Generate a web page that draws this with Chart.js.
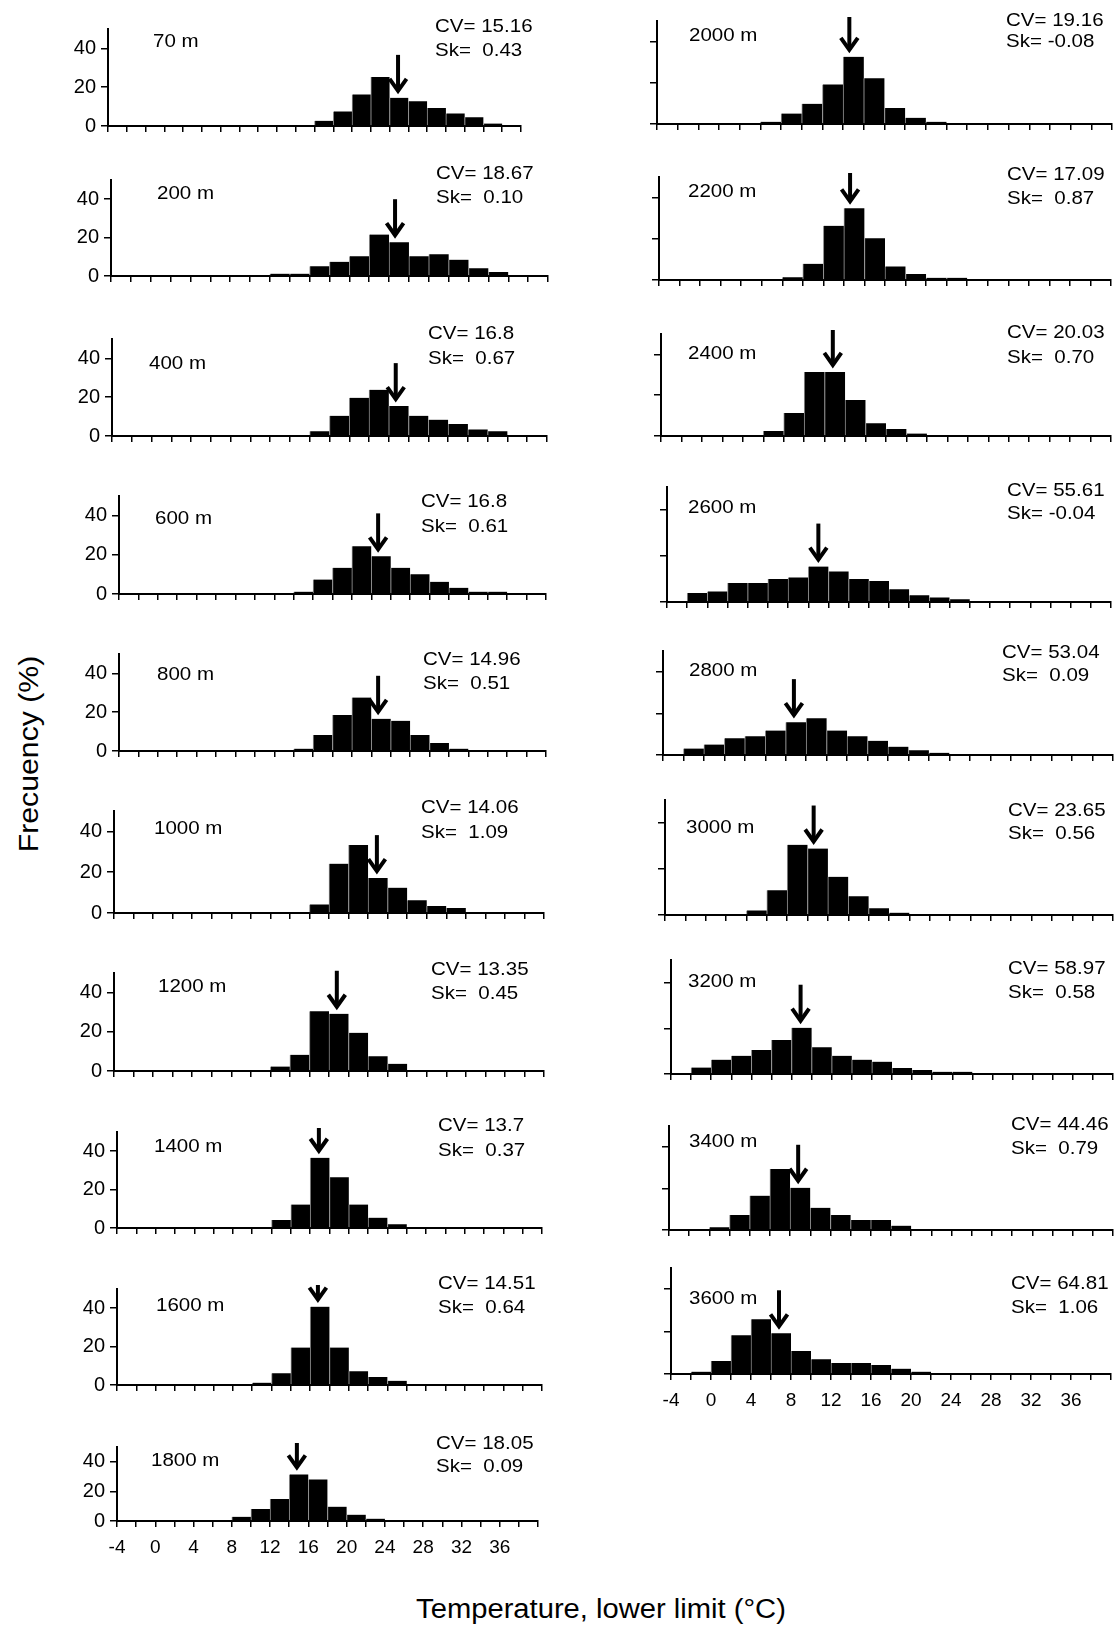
<!DOCTYPE html>
<html lang="en">
<head>
    <meta charset="UTF-8">
    <title>Frequency of lower temperature limit by altitude</title>
    <script src="https://cdn.jsdelivr.net/npm/chart.js"></script>
    <style>
        body {
            margin: 0;
            width: 1115px;
            height: 1625px;
            position: relative;
            overflow: hidden;
            background: #fff;
            font-family: "Liberation Sans", Arial, sans-serif;
            color: #000;
        }
        canvas { position: absolute; }
        .note {
            position: absolute;
            font-size: 19px;
            line-height: 1;
            white-space: pre;
            transform-origin: 0 50%;
            transform: translateY(-50%) scaleX(1.08);
        }
        .title {
            position: absolute;
            font-size: 27px;
            line-height: 1;
            white-space: nowrap;
        }
        #ytitle { left: 29px; top: 754px; font-size: 28px; transform: translate(-50%, -50%) rotate(-90deg) scaleX(1.08); }
        #xtitle { left: 601px; top: 1609px; transform: translate(-50%, -50%) scaleX(1.08); }
    </style>
</head>
<body>
    <div id="ytitle" class="title">Frecuency (%)</div>
    <div id="xtitle" class="title">Temperature, lower limit (°C)</div>

    <script>
        // ---- data ----
        const depths = ['70 m', '200 m', '400 m', '600 m', '800 m', '1000 m', '1200 m', '1400 m', '1600 m', '1800 m',
                        '2000 m', '2200 m', '2400 m', '2600 m', '2800 m', '3000 m', '3200 m', '3400 m', '3600 m'];
        const cvValues = ['15.16', '18.67', '16.8', '16.8', '14.96', '14.06', '13.35', '13.7', '14.51', '18.05',
                          '19.16', '17.09', '20.03', '55.61', '53.04', '23.65', '58.97', '44.46', '64.81'];
        const skValues = ['0.43', '0.10', '0.67', '0.61', '0.51', '1.09', '0.45', '0.37', '0.64', '0.09',
                          '-0.08', '0.87', '0.70', '-0.04', '0.09', '0.56', '0.58', '0.79', '1.06'];
        // mean temperature, where the arrow points
        const meanTemp = [26.9, 24.6, 24.7, 22.7, 22.7, 22.9, 18.8, 16.9, 16.8, 14.8,
                          14.6, 14.6, 12.8, 11.0, 8.8, 10.6, 8.9, 8.8, 6.8];

        // 2 degree bins, centres
        const binCenters = [-3, -1, 1, 3, 5, 7, 9, 11, 13, 15, 17, 19, 21, 23, 25, 27, 29, 31, 33, 35, 37, 39];

        // frequencies (%) per bin
        const f70   = [0, 0, 0, 0, 0, 0, 0, 0, 0, 0, 0, 2.7, 7.5, 16.3, 25.3, 14.5, 12.7, 9.3, 6.5, 4.5, 1.3, 0];
        const f200  = [0, 0, 0, 0, 0, 0, 0, 0, 1.2, 1.2, 5.1, 7.4, 10.3, 21.6, 17.6, 10.3, 11.3, 8.5, 4.1, 2.1, 0, 0];
        const f400  = [0, 0, 0, 0, 0, 0, 0, 0, 0, 0, 2.4, 10.4, 19.7, 23.8, 15.4, 10.4, 8.4, 6.2, 3.4, 2.4, 0, 0];
        const f600  = [0, 0, 0, 0, 0, 0, 0, 0, 0, 1.2, 7.4, 13.4, 24.4, 19.2, 13.4, 10.1, 6.2, 3.2, 1.2, 1.2, 0, 0];
        const f800  = [0, 0, 0, 0, 0, 0, 0, 0, 0, 1.2, 8.3, 18.5, 27.6, 16.6, 15.6, 8.3, 4.1, 1.2, 0, 0, 0, 0];
        const f1000 = [0, 0, 0, 0, 0, 0, 0, 0, 0, 0, 4.2, 24.2, 33.3, 17.1, 12.4, 6.2, 3.4, 2.4, 0, 0, 0, 0];
        const f1200 = [0, 0, 0, 0, 0, 0, 0, 0, 2.3, 8.3, 30.5, 29.2, 19.5, 7.5, 3.7, 0, 0, 0, 0, 0, 0, 0];
        const f1400 = [0, 0, 0, 0, 0, 0, 0, 0, 4.2, 12.2, 36.6, 26.4, 12.2, 5.4, 2.0, 0, 0, 0, 0, 0, 0, 0];
        const f1600 = [0, 0, 0, 0, 0, 0, 0, 1.2, 6.1, 19.5, 40.8, 19.5, 7.1, 4.2, 2.2, 0, 0, 0, 0, 0, 0, 0];
        const f1800 = [0, 0, 0, 0, 0, 0, 2.9, 8.1, 14.8, 31.5, 28.1, 9.7, 4.3, 1.6, 0, 0, 0, 0, 0, 0, 0, 0];
        const f2000 = [0, 0, 0, 0, 0, 1.1, 5.1, 9.8, 19.2, 32.6, 22.2, 7.8, 3.0, 1.1, 0, 0, 0, 0, 0, 0, 0, 0];
        const f2200 = [0, 0, 0, 0, 0, 0, 1.3, 7.9, 26.3, 34.8, 20.3, 6.6, 2.9, 1.1, 1.1, 0, 0, 0, 0, 0, 0, 0];
        const f2400 = [0, 0, 0, 0, 0, 2.4, 11.3, 31.4, 31.4, 17.6, 6.2, 3.4, 1.2, 0, 0, 0, 0, 0, 0, 0, 0, 0];
        const f2600 = [0, 3.9, 4.6, 8.3, 8.3, 10.0, 10.7, 15.4, 13.3, 10.0, 9.1, 5.5, 2.9, 2.0, 1.2, 0, 0, 0, 0, 0, 0, 0];
        const f2800 = [0, 3.1, 5.0, 8.1, 9.0, 11.8, 15.8, 17.7, 11.8, 9.0, 6.8, 4.0, 2.3, 1.1, 0, 0, 0, 0, 0, 0, 0, 0];
        const f3000 = [0, 0, 0, 0, 2.0, 10.8, 30.5, 28.9, 16.6, 8.2, 2.9, 1.0, 0, 0, 0, 0, 0, 0, 0, 0, 0, 0];
        const f3200 = [0, 2.8, 6.3, 8.0, 10.5, 14.9, 20.3, 11.7, 8.0, 6.3, 5.4, 2.6, 1.8, 1.0, 1.0, 0, 0, 0, 0, 0, 0, 0];
        const f3400 = [0, 0, 1.3, 7.2, 16.5, 29.3, 20.3, 10.7, 7.2, 4.8, 4.8, 2.1, 0, 0, 0, 0, 0, 0, 0, 0, 0, 0];
        const f3600 = [0, 1.1, 6.1, 18.3, 25.8, 19.2, 10.8, 7.0, 5.2, 5.2, 4.2, 2.5, 1.1, 0, 0, 0, 0, 0, 0, 0, 0, 0];

        const freqs = [f70, f200, f400, f600, f800, f1000, f1200, f1400, f1600, f1800,
                       f2000, f2200, f2400, f2600, f2800, f3000, f3200, f3400, f3600];

        const xTickValues = [-4, -2, 0, 2, 4, 6, 8, 10, 12, 14, 16, 18, 20, 22, 24, 26, 28, 30, 32, 34, 36, 38, 40];
        const xTickLabels = ['-4', '', '0', '', '4', '', '8', '', '12', '', '16', '', '20', '', '24', '', '28', '', '32', '', '36', '', ''];
        const yTickValues = [0, 20, 40];
        const yTickLabels = ['0', '20', '40'];

        // ---- layout (page pixels) ----
        // [axis left, axis right, top of axis (50 %), zero line]
        const frames = [
            [108, 521, 29, 126], [111, 548, 180, 276], [112, 547, 339, 436], [119, 546, 496, 594],
            [119, 546, 654, 751], [114, 544, 811, 913], [114, 544, 973, 1071], [117, 542, 1132, 1228],
            [117, 542, 1289, 1385], [117, 538, 1447, 1521],
            [657, 1112, 21, 124], [659, 1111, 177, 280], [661, 1111, 334, 436], [667, 1111, 487, 602],
            [663, 1113, 651, 755], [665, 1113, 800, 915], [671, 1113, 960, 1074], [669, 1113, 1126, 1230],
            [671, 1111, 1268, 1374]
        ];
        // [name x, name y, stats x, CV y, Sk y]
        const notePos = [
            [153, 40, 435, 25, 49], [157, 192, 436, 172, 196], [149, 362, 428, 332, 357], [155, 517, 421, 500, 525],
            [157, 673, 423, 658, 682], [154, 827, 421, 806, 831], [158, 985, 431, 968, 992], [154, 1145, 438, 1124, 1149],
            [156, 1304, 438, 1282, 1306], [151, 1459, 436, 1442, 1465],
            [689, 34, 1006, 19, 40], [688, 190, 1007, 173, 197], [688, 352, 1007, 331, 356], [688, 506, 1007, 489, 512],
            [689, 669, 1002, 651, 674], [686, 826, 1008, 809, 832], [688, 980, 1008, 967, 991], [689, 1140, 1011, 1123, 1147],
            [689, 1297, 1011, 1282, 1306]
        ];
        const withXLabels = [9, 18];
        const FONT = '"Liberation Sans", Arial, sans-serif';
        const Y_W = 50, PAD_R = 4, PAD_T = 4;

        function arrowPlugin(i) {
            return {
                id: 'meanArrow' + i,
                afterDatasetsDraw(chart) {
                    const xs = chart.scales.x, ys = chart.scales.y;
                    const m = meanTemp[i];
                    let k = 0;
                    binCenters.forEach((c, j) => { if (m >= c - 1 && m < c + 1) k = j; });
                    const px = xs.getPixelForValue(m);
                    const tip = ys.getPixelForValue(freqs[i][k]) - 4;
                    const ctx = chart.ctx;
                    ctx.save();
                    ctx.strokeStyle = '#000';
                    ctx.lineWidth = 4;
                    ctx.lineCap = 'butt';
                    ctx.lineJoin = 'miter';
                    ctx.beginPath();
                    ctx.moveTo(px, tip - 39);
                    ctx.lineTo(px, tip - 3);
                    ctx.stroke();
                    ctx.beginPath();
                    ctx.moveTo(px - 8.5, tip - 15);
                    ctx.lineTo(px, tip - 3);
                    ctx.lineTo(px + 8.5, tip - 15);
                    ctx.stroke();
                    ctx.restore();
                }
            };
        }

        function addNote(text, x, y) {
            const d = document.createElement('div');
            d.className = 'note';
            d.textContent = text;
            d.style.left = x + 'px';
            d.style.top = y + 'px';
            document.body.appendChild(d);
        }

        depths.forEach((depth, i) => {
            const [x0, x1, top, bottom] = frames[i];
            const showX = withXLabels.includes(i);
            const showY = i < 10;
            const hx = showX ? 48 : 12;

            const canvas = document.createElement('canvas');
            canvas.width = x1 - x0 + Y_W + PAD_R;
            canvas.height = bottom - top + PAD_T + hx;
            canvas.style.left = (x0 - Y_W) + 'px';
            canvas.style.top = (top - PAD_T) + 'px';
            document.body.appendChild(canvas);

            new Chart(canvas, {
                type: 'bar',
                data: {
                    datasets: [{
                        data: binCenters.map((c, k) => ({ x: c, y: freqs[i][k] })),
                        backgroundColor: '#000',
                        borderColor: '#8c8c8c',
                        borderWidth: { left: 1, right: 0, top: 0, bottom: 0 },
                        barPercentage: 1,
                        categoryPercentage: 1
                    }]
                },
                options: {
                    responsive: false,
                    animation: false,
                    events: [],
                    layout: { padding: { left: 0, right: PAD_R, top: PAD_T, bottom: 0 } },
                    plugins: { legend: { display: false }, tooltip: { enabled: false } },
                    scales: {
                        x: {
                            type: 'linear',
                            min: -4,
                            max: 40,
                            offset: false,
                            afterBuildTicks: s => { s.ticks = xTickValues.map(v => ({ value: v })); },
                            afterFit: s => { s.height = hx; s.paddingLeft = 0; s.paddingRight = 0; },
                            grid: { display: true, drawOnChartArea: false, offset: false, tickLength: 6, color: '#000', lineWidth: 1.5 },
                            border: { display: true, color: '#000', width: 2 },
                            ticks: {
                                display: showX,
                                autoSkip: false,
                                maxRotation: 0,
                                padding: 9,
                                color: '#000',
                                font: { family: FONT, size: 19 },
                                callback: (v, idx) => xTickLabels[idx]
                            }
                        },
                        y: {
                            min: 0,
                            max: 50,
                            afterBuildTicks: s => { s.ticks = yTickValues.map(v => ({ value: v })); },
                            afterFit: s => { s.width = Y_W; s.paddingTop = 0; s.paddingBottom = 0; },
                            grid: { display: true, drawOnChartArea: false, tickLength: 7, color: '#000', lineWidth: 1.5 },
                            border: { display: true, color: '#000', width: 2 },
                            ticks: {
                                display: showY,
                                padding: 5,
                                color: '#000',
                                font: { family: FONT, size: 20 },
                                callback: (v, idx) => yTickLabels[idx]
                            }
                        }
                    }
                },
                plugins: [arrowPlugin(i)]
            });

            const [nx, ny, sx, cvy, sky] = notePos[i];
            addNote(depth, nx, ny);
            addNote('CV= ' + cvValues[i], sx, cvy);
            const sk = skValues[i];
            addNote('Sk= ' + (sk.startsWith('-') ? sk : ' ' + sk), sx, sky);
        });
    </script>
</body>
</html>
